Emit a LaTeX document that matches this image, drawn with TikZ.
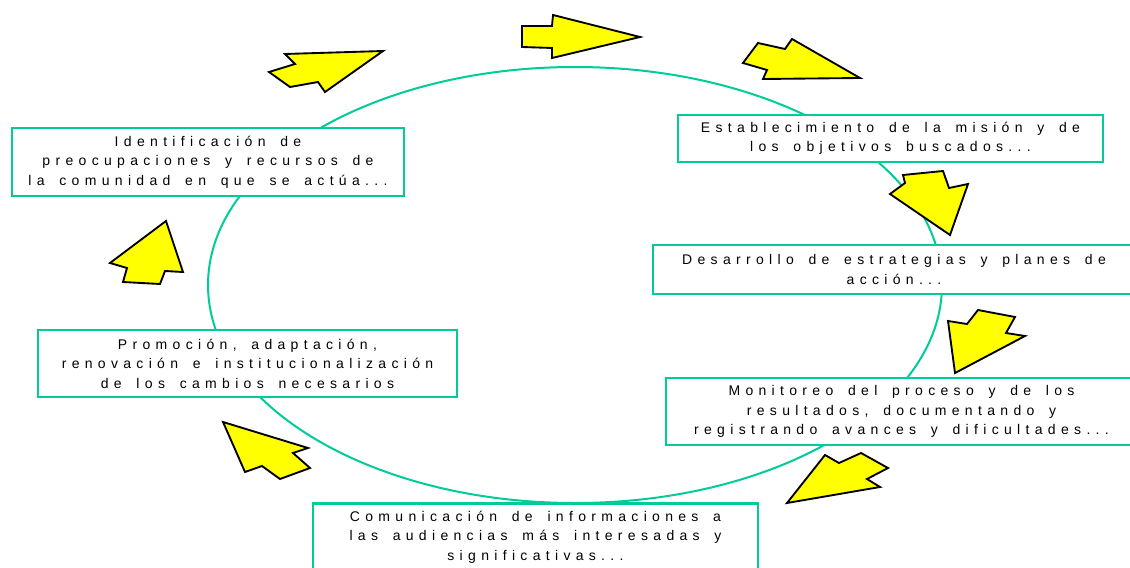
\documentclass[tikz,border=0pt]{standalone}
\usepackage{fontspec}
\setmainfont{Liberation Sans}[LetterSpace=38,WordSpace=1.6]
\definecolor{cycgreen}{RGB}{0,204,153}
\definecolor{arrowyellow}{RGB}{255,255,0}
\tikzset{
  stagebox/.style={draw=cycgreen, line width=1.6pt, fill=white, align=center,
    font=\fontsize{10.5pt}{14.6pt}\selectfont, inner sep=0pt},
  blockarrow/.style={draw=black, fill=arrowyellow, line width=1.4pt, line join=miter},
  cycle line/.style={draw=cycgreen, line width=1.5pt}
}
\begin{document}
\begin{tikzpicture}[x=0.75pt,y=-0.75pt]
\useasboundingbox (0,0) rectangle (1130,567);
\clip (0,0) rectangle (1130,567);
% cycle ellipse
\draw[cycle line] (575,285) ellipse [x radius=367, y radius=218];
% stage boxes
\node[stagebox, minimum width=294pt, minimum height=51pt] (ident) at (208,162)
  {Identificación de\\preocupaciones y recursos de\\la comunidad en que se actúa...};
\node[stagebox, minimum width=318.75pt, minimum height=35.25pt] (mision) at (890.5,138.5)
  {Establecimiento de la misión y de\\los objetivos buscados...};
\node[stagebox, minimum width=361.5pt, minimum height=36.75pt] (estrat) at (894,269.5)
  {Desarrollo de estrategias y planes de\\acción...};
\node[stagebox, minimum width=353.25pt, minimum height=50.25pt] (monit) at (901.5,411.5)
  {Monitoreo del proceso y de los\\resultados, documentando y\\registrando avances y dificultades...};
\node[stagebox, minimum width=333.75pt, minimum height=50.25pt] (comun) at (535.5,537)
  {Comunicación de informaciones a\\las audiencias más interesadas y\\significativas...};
\node[stagebox, minimum width=314.25pt, minimum height=50.25pt] (promo) at (247.5,363.5)
  {Promoción, adaptación,\\renovación e institucionalización\\de los cambios necesarios};
% block arrows
\draw[blockarrow] (383,51) -- (285,54) -- (295,64) -- (269,72) -- (290,87) -- (318,82) -- (325,92) -- cycle;
\draw[blockarrow] (522,26) -- (552,26) -- (553,15) -- (640,37) -- (552,58) -- (552,48) -- (522,47) -- cycle;
\draw[blockarrow] (743,63) -- (758,43) -- (785,49) -- (792,39) -- (860,78) -- (763,79) -- (767,70) -- cycle;
\draw[blockarrow] (890,194) -- (905,183) -- (903,175) -- (943,171) -- (949,188) -- (968,184) -- (950,235) -- cycle;
\draw[blockarrow] (948,321) -- (967,324) -- (978,310) -- (1015,317) -- (1006,333) -- (1025,336) -- (955,373) -- cycle;
\draw[blockarrow] (787,503) -- (825,455) -- (839,463) -- (861,453) -- (888,468) -- (867,479) -- (880,487) -- cycle;
\draw[blockarrow] (223,422) -- (308,448) -- (293,453) -- (310,468) -- (280,479) -- (262,466) -- (245,472) -- cycle;
\draw[blockarrow] (166,221) -- (183,272) -- (165,271) -- (160,284) -- (123,282) -- (127,268) -- (110,263) -- cycle;
\end{tikzpicture}
\end{document}
